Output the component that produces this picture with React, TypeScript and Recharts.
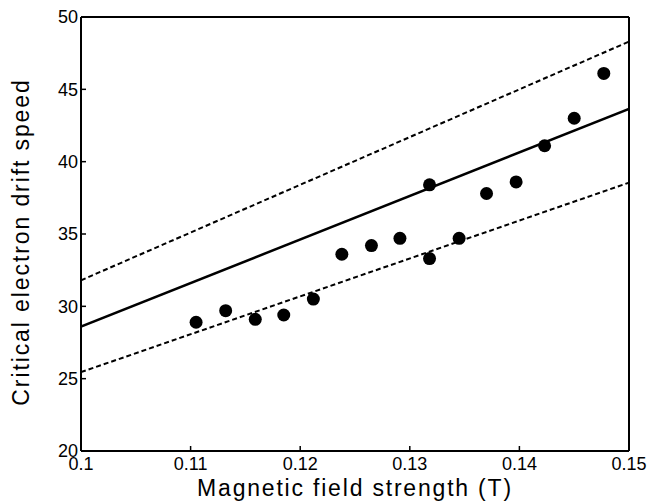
import {
  ScatterChart,
  Scatter,
  XAxis,
  YAxis,
} from "recharts";

// measured points (field T, drift speed)
const fieldStrength = [
  0.1105, 0.1132, 0.1159, 0.1185, 0.1212, 0.1238, 0.1265, 0.1291, 0.1318,
  0.1318, 0.1345, 0.137, 0.1397, 0.1423, 0.145, 0.1477,
];
const driftSpeed = [
  28.9, 29.7, 29.1, 29.4, 30.5, 33.6, 34.2, 34.7, 38.4, 33.3, 34.7, 37.8,
  38.6, 41.1, 43.0, 46.1,
];

// fitted line and bounds at the two ends of the range
const lineX = [0.1, 0.15];
const fitY = [28.6, 43.65];
const upperY = [31.8, 48.3];
const lowerY = [25.45, 38.55];

const xTicks = [0.1, 0.11, 0.12, 0.13, 0.14, 0.15];
const yTicks = [20, 25, 30, 35, 40, 45, 50];

const points = fieldStrength.map((x, i) => ({ x, y: driftSpeed[i] }));
const toLine = (ys: number[]) => lineX.map((x, i) => ({ x, y: ys[i] }));

const font = "'Liberation Sans', Arial, Helvetica, sans-serif";
const tickStyle = { fill: "#000", fontSize: 18, fontFamily: font };
const axisLine = { stroke: "#000", strokeWidth: 2 };
const tickLine = { stroke: "#000", strokeWidth: 1.5 };

const Dot = (p: any) => <circle cx={p.cx} cy={p.cy} r={6.5} fill="#000" />;
const NoDot = () => <g />;

const YTitle = ({ viewBox }: any) => {
  const cx = viewBox.x + 21;
  const cy = viewBox.y + viewBox.height / 2 + 8;
  return (
    <text
      x={cx}
      y={cy}
      transform={`rotate(-90 ${cx} ${cy})`}
      textAnchor="middle"
      dominantBaseline="central"
      fill="#000"
      fontSize={23}
      fontFamily={font}
      letterSpacing={1.9}
    >
      Critical electron drift speed
    </text>
  );
};

export default function App() {
  return (
    <div style={{ position: "absolute", left: 0, top: 0, background: "#fff" }}>
      <ScatterChart
        width={650}
        height={503}
        margin={{ top: 16, right: 20, bottom: 22, left: 0 }}
      >
        <XAxis
          type="number"
          dataKey="x"
          domain={[0.1, 0.15]}
          ticks={xTicks}
          tickFormatter={(v) => String(v)}
          height={30}
          tickSize={-5}
          tickMargin={11}
          axisLine={axisLine}
          tickLine={tickLine}
          tick={tickStyle}
          allowDataOverflow
          label={{
            value: "Magnetic field strength (T)",
            position: "bottom",
            offset: -1,
            style: {
              fill: "#000",
              fontSize: 23,
              fontFamily: font,
              letterSpacing: 1.8,
            },
          }}
        />
        <XAxis
          xAxisId="top"
          orientation="top"
          type="number"
          dataKey="x"
          domain={[0.1, 0.15]}
          ticks={xTicks}
          height={1}
          tickSize={-5}
          axisLine={axisLine}
          tickLine={tickLine}
          tick={false}
          allowDataOverflow
        />
        <YAxis
          type="number"
          dataKey="y"
          domain={[20, 50]}
          ticks={yTicks}
          width={81}
          tickSize={-5}
          tickMargin={8}
          axisLine={axisLine}
          tickLine={tickLine}
          tick={tickStyle}
          allowDataOverflow
          label={{ content: YTitle }}
        />
        <YAxis
          yAxisId="right"
          orientation="right"
          type="number"
          dataKey="y"
          domain={[20, 50]}
          ticks={yTicks}
          width={1}
          tickSize={-5}
          axisLine={axisLine}
          tickLine={tickLine}
          tick={false}
          allowDataOverflow
        />
        {/* binds the mirrored top/right axes so they draw the frame */}
        <Scatter
          xAxisId="top"
          yAxisId="right"
          data={points}
          shape={NoDot}
          isAnimationActive={false}
        />
        <Scatter
          data={toLine(upperY)}
          line={{ stroke: "#000", strokeWidth: 2, strokeDasharray: "5 3" }}
          shape={NoDot}
          isAnimationActive={false}
        />
        <Scatter
          data={toLine(lowerY)}
          line={{ stroke: "#000", strokeWidth: 2, strokeDasharray: "5 3" }}
          shape={NoDot}
          isAnimationActive={false}
        />
        <Scatter
          data={toLine(fitY)}
          line={{ stroke: "#000", strokeWidth: 2.5 }}
          shape={NoDot}
          isAnimationActive={false}
        />
        <Scatter data={points} shape={Dot} isAnimationActive={false} />
      </ScatterChart>
    </div>
  );
}
